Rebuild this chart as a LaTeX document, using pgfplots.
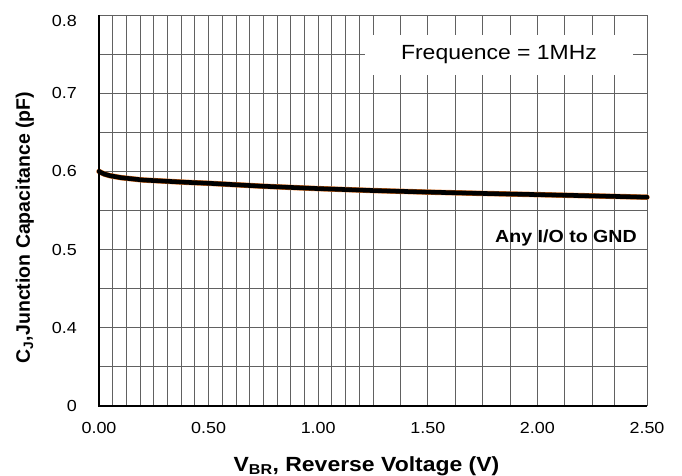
\documentclass[border=0pt]{standalone}
\usepackage{fontspec}
\setmainfont{Liberation Sans}[FakeStretch=1.12]
\newfontfamily\yfont{Liberation Sans}
\usepackage{pgfplots}
\usepackage{pgfplotstable}
\pgfplotsset{compat=1.18}
\definecolor{edgeorange}{RGB}{230,120,40}
\pgfplotstableread{
x y
0.000 0.6000
0.010 0.5985
0.025 0.5965
0.050 0.5945
0.100 0.5920
0.150 0.5905
0.200 0.5890
0.300 0.5875
0.400 0.5860
0.500 0.5848
0.750 0.5810
1.000 0.5780
1.250 0.5755
1.500 0.5735
1.750 0.5718
2.000 0.5703
2.250 0.5687
2.500 0.5670
}\cjdata
\begin{document}
\begin{tikzpicture}
\begin{axis}[name=ax, scale only axis, width=548pt, height=391pt,
  xmin=0, xmax=2.5, ymin=0.3, ymax=0.8,
  xtick={0,0.5,1,1.5,2,2.5},
  xticklabels={0.00,0.50,1.00,1.50,2.00,2.50},
  minor xtick={0.0625,0.125,0.1875,0.25,0.3125,0.375,0.4375,0.5625,0.625,0.6875,0.75,0.8125,0.875,0.9375,1.0625,1.125,1.1875,1.25,1.375,1.625,1.75,1.875,2.125,2.25,2.35},
  ytick={0.3,0.4,0.5,0.6,0.7},
  yticklabels={0,0.4,0.5,0.6,0.7},
  extra y ticks={0.8}, extra y tick labels={0.8},
  extra y tick style={grid=major, yticklabel style={yshift=-6pt}},
  minor ytick={0.35,0.45,0.55,0.65,0.75},
  grid=both,
  major grid style={black!62, line width=0.9pt},
  minor grid style={black!62, line width=0.9pt},
  major tick length=0pt, minor tick length=0pt,
  axis line style={draw=none},
  tick label style={font=\fontsize{16}{19}\selectfont},
  xticklabel style={anchor=north, inner sep=0pt, yshift=-16pt},
  yticklabel style={anchor=east, inner sep=0pt, xshift=-22pt},
  clip=false,
]
\addplot[draw=edgeorange, line width=5.4pt, line cap=round, line join=round] table[x=x,y=y] {\cjdata};
\addplot[draw=black, line width=4.6pt, line cap=round, line join=round] table[x=x,y=y] {\cjdata};
\end{axis}
\draw[black, line width=2.6pt] (ax.north west) -- (ax.south west) -- (ax.south east);
\node[fill=white, inner sep=0pt, minimum width=268pt, minimum height=40pt,
  font=\fontsize{20.5}{24}\selectfont]
  at ([xshift=400pt,yshift=351pt]ax.south west) {Frequence = 1MHz};
\node[anchor=base west, inner sep=0pt, font=\bfseries\fontsize{17.5}{21}\selectfont]
  at ([xshift=396pt,yshift=163.3pt]ax.south west) {Any I/O to GND};
\node[anchor=base, inner sep=0pt, font=\bfseries\fontsize{20.5}{24}\selectfont]
  at ([xshift=267.5pt,yshift=-65pt]ax.south west) {V\textsubscript{BR}, Reverse Voltage (V)};
\node[rotate=90, anchor=base, inner sep=0pt, font=\yfont\bfseries\fontsize{19.5}{23}\selectfont]
  at ([xshift=-69pt,yshift=178.5pt]ax.south west) {C\textsubscript{J},Junction Capacitance (pF)};
\pgfresetboundingbox
\path[use as bounding box] ([xshift=-99pt,yshift=-70pt]ax.south west) rectangle ([xshift=583pt,yshift=406pt]ax.south west);
\end{tikzpicture}
\end{document}
